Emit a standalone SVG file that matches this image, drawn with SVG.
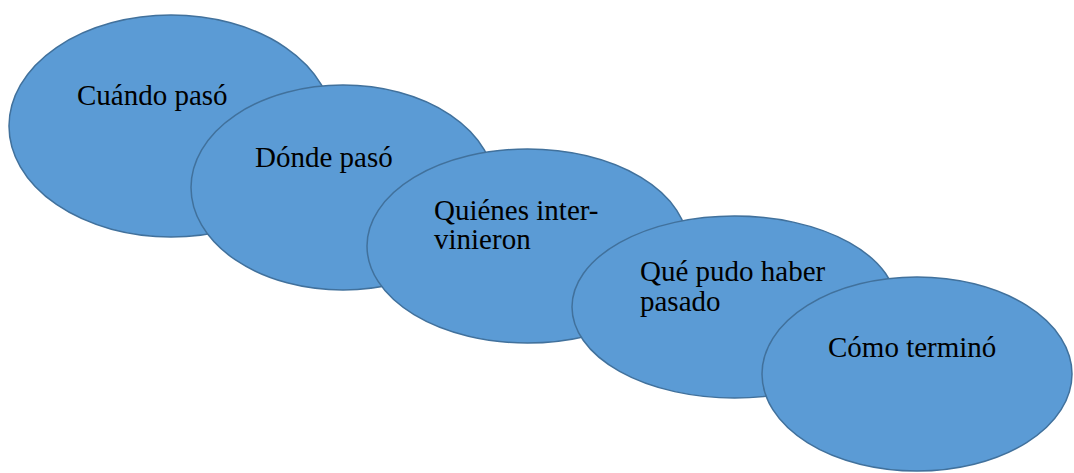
<svg xmlns="http://www.w3.org/2000/svg" width="1074" height="473" viewBox="0 0 1074 473">
<style>
.n{fill:#5B9BD5;stroke:#41719C;stroke-width:1.5}
.t{font-family:'Liberation Serif',Tinos,'Times New Roman',Times,'DejaVu Serif',serif;font-size:29px;fill:#000}
</style>
<rect width="1074" height="473" fill="#fff"/>
<g id="connectors"></g>
<g id="n1"><ellipse class="n" cx="171" cy="126" rx="162" ry="111"/><text class="t" x="77" y="105">Cuándo pasó</text></g>
<g id="n2"><ellipse class="n" cx="343" cy="187.5" rx="152" ry="102.5"/><text class="t" x="255" y="167">Dónde pasó</text></g>
<g id="n3"><ellipse class="n" cx="527.5" cy="246" rx="160.5" ry="97"/><text class="t" x="434" y="220">Quiénes inter-</text><text class="t" x="434" y="249">vinieron</text></g>
<g id="n4"><ellipse class="n" cx="734.5" cy="307" rx="162.5" ry="91"/><text class="t" x="640" y="281">Qué pudo haber</text><text class="t" x="640" y="311">pasado</text></g>
<g id="n5"><ellipse class="n" cx="917" cy="374" rx="155" ry="97"/><text class="t" x="828" y="357">Cómo terminó</text></g>
</svg>
